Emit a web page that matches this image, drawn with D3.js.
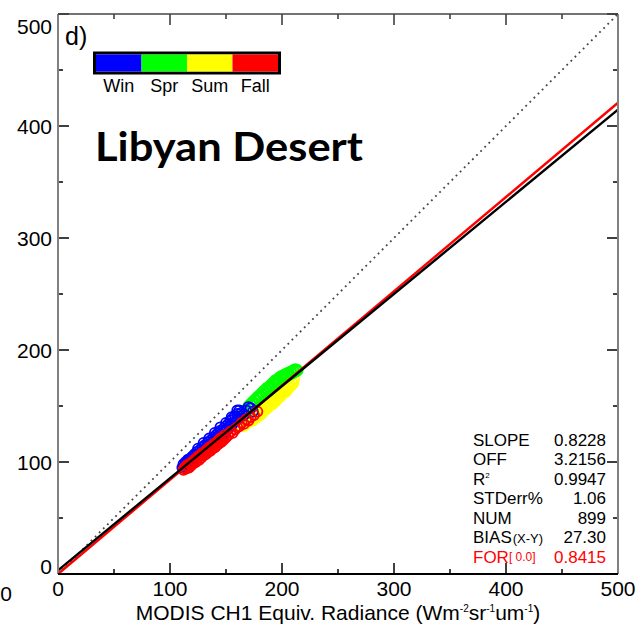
<!DOCTYPE html>
<html>
<head>
<meta charset="utf-8">
<script src="https://cdn.jsdelivr.net/npm/d3@7"></script>
<style>
  body { margin: 0; background: #fff; }
  text { font-family: "Liberation Sans", Arial, sans-serif; }
</style>
</head>
<body>
<div id="chart"></div>
<script>
// values (radiances, Wm-2 sr-1 um-1)
const winPts = [[111,95],[112,98],[113,96],[114,100],[115,99],[116,102],[117,98],[118,103],[119,101],[120,105],
  [121,103],[122,107],[123,104],[124,109],[125,107],[126,106],[127,111],[128,109],[129,113],[130,111],
  [131,115],[132,113],[133,112],[134,118],[135,116],[136,115],[137,120],[138,118],[139,122],[140,120],
  [141,124],[142,121],[143,126],[144,123],[145,128],[146,125],[147,124],[148,130],[149,128],[150,132],
  [151,129],[152,134],[153,131],[154,137],[155,133],[156,139],[157,135],[158,141],[159,137],[160,143],
  [161,139],[162,146],[163,141],[164,144],[166,142],[168,146],[170,149],[172,148],[174,145],
  [125,112],[130,117],[135,121],[140,126],[145,131],[150,135],[155,140],[160,146]];
const sprPts = [[160,138],[162,140],[163,143],[165,141],[166,145],[167,143],[168,147],[169,146],[170,150],[171,148],
  [172,152],[173,150],[174,154],[175,152],[176,156],[177,155],[178,158],[179,157],[180,160],[181,158],
  [182,162],[183,160],[184,164],[185,162],[186,166],[187,164],[188,167],[189,166],[190,169],[191,167],
  [192,171],[193,169],[194,173],[195,171],[196,174],[197,172],[198,176],[199,174],[200,177],[201,175],
  [202,178],[203,176],[204,179],[205,177],[206,180],[207,178],[208,181],[209,179],[210,182],[211,180],
  [212,183],[213,181],[214,182]];
const sumPts = [[163,133],[165,136],[166,132],[168,137],[169,135],[170,139],[171,136],[172,138],[173,141],[174,137],
  [175,142],[176,139],[177,143],[178,140],[179,145],[180,142],[181,147],[182,143],[183,148],[184,146],
  [185,150],[186,147],[187,152],[188,149],[189,153],[190,151],[191,155],[192,152],[193,157],[194,154],
  [195,159],[196,156],[197,161],[198,158],[199,162],[200,160],[201,164],[202,162],[203,166],[204,163],
  [205,168],[206,166],[207,170],[208,168],[209,172],[210,170],[211,174]];
const fallPts = [[112,93],[113,95],[114,94],[115,97],[116,96],[117,95],[118,99],[119,97],[120,100],[121,99],
  [122,102],[123,100],[124,103],[125,105],[126,102],[127,106],[128,104],[129,108],[130,106],[131,109],
  [132,107],[133,111],[134,109],[135,113],[136,110],[137,114],[138,112],[139,116],[140,113],[141,117],
  [142,115],[143,119],[144,117],[145,121],[146,118],[147,122],[148,120],[149,124],[150,122],[152,124],
  [154,127],[156,126],[158,129],[160,131],[162,132],[164,135],[166,134],[168,138],[170,137],[172,140],
  [175,142],[178,145]];

const seasons = ["Win", "Spr", "Sum", "Fall"];
const seasonColors = ["#0000ff", "#00ff00", "#ffff00", "#ff0000"];
const ticksMajor = [0, 100, 200, 300, 400, 500];
const ticksAll = [0, 50, 100, 150, 200, 250, 300, 350, 400, 450, 500];

const fit = {slope: 0.8228, off: 3.2156};
const forced = {slope: 0.8415};
const statNames = ["SLOPE", "OFF", "R", "STDerr%", "NUM", "BIAS", "FOR"];
const statValues = ["0.8228", "3.2156", "0.9947", "1.06", "899", "27.30", "0.8415"];

const margin = {top: 14, right: 23, bottom: 56, left: 58},
      width = 641 - margin.left - margin.right,
      height = 630 - margin.top - margin.bottom;

const root = d3.select("#chart")
               .append("svg")
               .attr("width", 641)
               .attr("height", 630);

const svg = root.append("g")
                .attr("transform", "translate(" + margin.left + "," + margin.top + ")");

const x = d3.scaleLinear().domain([0, 500]).range([0, width]);
const y = d3.scaleLinear().domain([0, 500]).range([height, 0]);

// scatter, summer and spring underneath
const drawPts = (pts, col) => {
  svg.append("g")
     .selectAll("circle")
     .data(pts)
     .enter()
     .append("circle")
     .attr("cx", d => x(d[0]))
     .attr("cy", d => y(d[1]))
     .attr("r", 5)
     .attr("fill", "none")
     .attr("stroke", col)
     .attr("stroke-width", 1.8);
};
drawPts(sumPts, seasonColors[2]);
drawPts(sprPts, seasonColors[1]);
drawPts(winPts, seasonColors[0]);
drawPts(fallPts, seasonColors[3]);

// 1:1 line
svg.append("line")
   .attr("x1", x(0)).attr("y1", y(0))
   .attr("x2", x(500)).attr("y2", y(500))
   .attr("stroke", "#444")
   .attr("stroke-width", 1.8)
   .attr("stroke-dasharray", "1.8,4");

// fits
svg.append("line")
   .attr("x1", x(0)).attr("y1", y(0))
   .attr("x2", x(500)).attr("y2", y(forced.slope * 500))
   .attr("stroke", "#ff0000")
   .attr("stroke-width", 2.4);
svg.append("line")
   .attr("x1", x(0)).attr("y1", y(fit.off))
   .attr("x2", x(500)).attr("y2", y(fit.slope * 500 + fit.off))
   .attr("stroke", "#000")
   .attr("stroke-width", 2.4);

// axes: ticks all point inward
const tickLen = d => (d % 100 === 0 ? 11 : 5);

const axisG = (cls, tf) => svg.append("g").attr("class", cls).attr("transform", tf);

const gLeft = axisG("yl", "translate(0,0)");
gLeft.selectAll("line").data(ticksAll).enter().append("line")
     .attr("x1", 0).attr("x2", d => tickLen(d))
     .attr("y1", d => y(d)).attr("y2", d => y(d))
     .attr("stroke", "#000").attr("stroke-width", 1.5);
gLeft.selectAll("text").data(ticksMajor).enter().append("text")
     .attr("x", -6)
     .attr("y", d => y(d))
     .attr("dy", d => d === 500 ? "0.95em" : d === 0 ? "-0.02em" : "0.36em")
     .attr("text-anchor", "end")
     .style("font-size", "21px")
     .text(d => d);

const gRight = axisG("yr", "translate(" + width + ",0)");
gRight.selectAll("line").data(ticksAll).enter().append("line")
      .attr("x1", 0).attr("x2", d => -tickLen(d))
      .attr("y1", d => y(d)).attr("y2", d => y(d))
      .attr("stroke", "#000").attr("stroke-width", 1.5);

const gTop = axisG("xt", "translate(0,0)");
gTop.selectAll("line").data(ticksAll).enter().append("line")
    .attr("y1", 0).attr("y2", d => tickLen(d))
    .attr("x1", d => x(d)).attr("x2", d => x(d))
    .attr("stroke", "#333").attr("stroke-width", 1.5);

const gBot = axisG("xb", "translate(0," + height + ")");
gBot.selectAll("line").data(ticksAll).enter().append("line")
    .attr("y1", 0).attr("y2", d => -tickLen(d))
    .attr("x1", d => x(d)).attr("x2", d => x(d))
    .attr("stroke", "#000").attr("stroke-width", 1.5);
gBot.selectAll("text").data(ticksMajor).enter().append("text")
    .attr("x", d => x(d))
    .attr("y", 22)
    .attr("text-anchor", "middle")
    .style("font-size", "21px")
    .text(d => d);

// frame
svg.append("line").attr("x1", 0).attr("x2", 0).attr("y1", 0).attr("y2", height)
   .attr("stroke", "#808080").attr("stroke-width", 2);
svg.append("line").attr("x1", width).attr("x2", width).attr("y1", 0).attr("y2", height)
   .attr("stroke", "#808080").attr("stroke-width", 2);
svg.append("line").attr("x1", 0).attr("x2", width).attr("y1", 0).attr("y2", 0)
   .attr("stroke", "#444").attr("stroke-width", 1.5);
svg.append("line").attr("x1", 0).attr("x2", width).attr("y1", height).attr("y2", height)
   .attr("stroke", "#000").attr("stroke-width", 2);

// x title
const xt = root.append("text")
               .attr("x", margin.left + width / 2)
               .attr("y", 620)
               .attr("text-anchor", "middle")
               .style("font-size", "21px");
xt.append("tspan").text("MODIS CH1 Equiv. Radiance (Wm");
xt.append("tspan").attr("dy", -8).style("font-size", "10px").text("-2");
xt.append("tspan").attr("dy", 8).text("sr");
xt.append("tspan").attr("dy", -8).style("font-size", "10px").text("-1");
xt.append("tspan").attr("dy", 8).text("um");
xt.append("tspan").attr("dy", -8).style("font-size", "10px").text("-1");
xt.append("tspan").attr("dy", 8).text(")");

// stray label from neighbour panel
root.append("text").attr("x", 6).attr("y", 601).attr("text-anchor", "middle")
    .style("font-size", "21px").text("0");

// panel letter and site name
root.append("text").attr("x", 65).attr("y", 45).style("font-size", "25px").text("d)");
root.append("text")
    .attr("x", 95).attr("y", 161)
    .attr("textLength", 268).attr("lengthAdjust", "spacingAndGlyphs")
    .style("font-family", "Lato, 'Open Sans', sans-serif")
    .style("font-weight", "bold")
    .style("font-size", "40px")
    .text("Libyan Desert");

// season colour bar
const lx = d3.scaleBand().domain(seasons).range([96, 278]);
root.append("rect").attr("x", 94.5).attr("y", 53).attr("width", 185).attr("height", 20)
    .attr("fill", "none").attr("stroke", "#000").attr("stroke-width", 3);
root.selectAll(".seg")
    .data(seasons)
    .enter()
    .append("rect")
    .attr("class", "seg")
    .attr("x", d => lx(d))
    .attr("y", 54.5)
    .attr("width", lx.bandwidth())
    .attr("height", 17)
    .attr("fill", (d, i) => seasonColors[i]);
root.selectAll(".seglab")
    .data(seasons)
    .enter()
    .append("text")
    .attr("class", "seglab")
    .attr("x", d => lx(d) + lx.bandwidth() / 2)
    .attr("y", 92)
    .attr("text-anchor", "middle")
    .style("font-size", "18px")
    .text(d => d);

// stats block
const rowY = d3.scaleLinear().domain([0, 6]).range([446, 562.5]);
const stats = root.append("g");
statNames.forEach((n, i) => {
  const col = i === 6 ? "#ff0000" : "#000";
  const t = stats.append("text")
                 .attr("x", 473).attr("y", rowY(i))
                 .attr("fill", col)
                 .style("font-size", "17px");
  t.append("tspan").text(n);
  if (n === "R") t.append("tspan").attr("dy", -7).style("font-size", "8px").text("2");
  if (n === "BIAS") t.append("tspan").attr("dx", 1).style("font-size", "13px").text("(X-Y)");
  if (n === "FOR") t.append("tspan").attr("dy", -2).style("font-size", "12px").text("[ 0.0]");
  stats.append("text")
       .attr("x", 606).attr("y", rowY(i))
       .attr("text-anchor", "end")
       .attr("fill", col)
       .style("font-size", "17px")
       .text(statValues[i]);
});
</script>
</body>
</html>
